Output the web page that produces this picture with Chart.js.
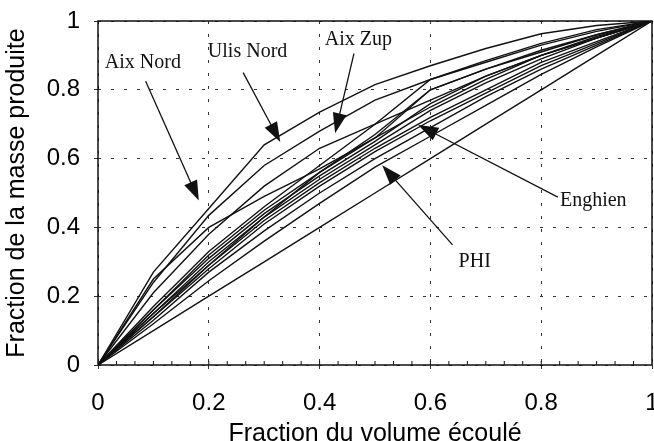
<!DOCTYPE html>
<html>
<head>
<meta charset="utf-8">
<script src="https://cdn.jsdelivr.net/npm/chart.js@4.4.1/dist/chart.umd.min.js"></script>
<style>
  html, body { margin: 0; padding: 0; background: #fff; overflow: hidden; }
</style>
</head>
<body>
<canvas id="chart" width="654" height="441"></canvas>
<script>
// Fraction du volume écoulé (axe x), commune à toutes les courbes
const volumeFraction = [0, 0.1, 0.2, 0.3, 0.4, 0.5, 0.6, 0.7, 0.8, 0.9, 1];

// Fraction de la masse produite
const aixNord  = [0, 0.27, 0.455, 0.64, 0.735, 0.815, 0.87, 0.92, 0.963, 0.987, 1];
const ulisNord = [0, 0.24, 0.435, 0.58, 0.68, 0.77, 0.83, 0.885, 0.935, 0.975, 1];
const aixZup   = [0, 0.21, 0.38, 0.52, 0.63, 0.70, 0.77, 0.84, 0.90, 0.955, 1];
const site4    = [0, 0.25, 0.40, 0.49, 0.57, 0.66, 0.80, 0.86, 0.915, 0.96, 1];
const site5    = [0, 0.17, 0.33, 0.46, 0.58, 0.70, 0.83, 0.88, 0.93, 0.97, 1];
const site6    = [0, 0.16, 0.32, 0.45, 0.56, 0.67, 0.80, 0.86, 0.91, 0.96, 1];
const site7    = [0, 0.16, 0.31, 0.44, 0.55, 0.65, 0.76, 0.84, 0.90, 0.95, 1];
const site8    = [0, 0.15, 0.30, 0.43, 0.54, 0.64, 0.74, 0.82, 0.89, 0.95, 1];
const site9    = [0, 0.15, 0.29, 0.42, 0.53, 0.63, 0.72, 0.80, 0.88, 0.94, 1];
const enghien  = [0, 0.14, 0.28, 0.41, 0.52, 0.62, 0.71, 0.79, 0.87, 0.935, 1];
const site11   = [0, 0.13, 0.27, 0.39, 0.50, 0.60, 0.69, 0.78, 0.86, 0.93, 1];
const site12   = [0, 0.14, 0.29, 0.43, 0.56, 0.66, 0.75, 0.83, 0.90, 0.95, 1];
const phi      = [0, 0.12, 0.245, 0.36, 0.47, 0.575, 0.665, 0.755, 0.845, 0.925, 1];
const bisector = [0, 0.1, 0.2, 0.3, 0.4, 0.5, 0.6, 0.7, 0.8, 0.9, 1];

const series = [aixNord, ulisNord, aixZup, site4, site5, site6, site7, site8,
                site9, enghien, site11, site12, phi, bisector];

const xTickLabels = ['0', '0.2', '0.4', '0.6', '0.8', '1'];
const yTickLabels = ['0', '0.2', '0.4', '0.6', '0.8', '1'];

// étiquettes et flèches (coordonnées en unités des axes)
const callouts = [
  { text: 'Aix Nord',  at: [0.081, 0.88],  from: [0.086, 0.825], to: [0.182, 0.478] },
  { text: 'Ulis Nord', at: [0.27, 0.91],   from: [0.262, 0.85],  to: [0.329, 0.648] },
  { text: 'Aix Zup',   at: [0.47, 0.945],  from: [0.462, 0.905], to: [0.428, 0.674] },
  { text: 'Enghien',   at: [0.894, 0.477], from: [0.83, 0.488],  to: [0.578, 0.698] },
  { text: 'PHI',       at: [0.68, 0.30],   from: [0.64, 0.349],  to: [0.513, 0.581] }
];

function buildDatasets() {
  return series.map(values => ({
    data: values.map((v, i) => ({ x: volumeFraction[i], y: v })),
    showLine: true,
    borderColor: '#111',
    borderWidth: 1.4,
    pointRadius: 0,
    tension: 0
  }));
}

function drawArrow(ctx, x0, y0, x1, y1) {
  const angle = Math.atan2(y1 - y0, x1 - x0);
  const len = 20, half = 7;
  ctx.beginPath();
  ctx.moveTo(x0, y0);
  ctx.lineTo(x1 - Math.cos(angle) * len * 0.8, y1 - Math.sin(angle) * len * 0.8);
  ctx.stroke();
  ctx.beginPath();
  ctx.moveTo(x1, y1);
  ctx.lineTo(x1 - len * Math.cos(angle) + half * Math.sin(angle),
             y1 - len * Math.sin(angle) - half * Math.cos(angle));
  ctx.lineTo(x1 - len * Math.cos(angle) - half * Math.sin(angle),
             y1 - len * Math.sin(angle) + half * Math.cos(angle));
  ctx.closePath();
  ctx.fill();
}

// cadre, petites graduations et annotations
const decorPlugin = {
  id: 'decor',
  afterDatasetsDraw(chart) {
    const { ctx, chartArea: a, scales: { x, y } } = chart;
    ctx.save();
    ctx.strokeStyle = '#111';
    ctx.fillStyle = '#111';
    ctx.lineWidth = 1.5;
    ctx.strokeRect(a.left, a.top, a.right - a.left, a.bottom - a.top);

    ctx.lineWidth = 1;
    for (let i = 1; i < 30; i++) {
      const px = x.getPixelForValue(i / 30);
      ctx.beginPath();
      ctx.moveTo(px, a.bottom);
      ctx.lineTo(px, a.bottom - 4);
      ctx.stroke();
    }

    ctx.font = '20px "Liberation Serif", "Times New Roman", serif';
    ctx.textAlign = 'center';
    ctx.textBaseline = 'middle';
    callouts.forEach(c => {
      ctx.fillText(c.text, x.getPixelForValue(c.at[0]), y.getPixelForValue(c.at[1]));
      ctx.lineWidth = 1.3;
      drawArrow(ctx,
        x.getPixelForValue(c.from[0]), y.getPixelForValue(c.from[1]),
        x.getPixelForValue(c.to[0]), y.getPixelForValue(c.to[1]));
    });
    ctx.restore();
  }
};

function createChart() {
  const ctx = document.getElementById('chart').getContext('2d');
  const tickFont = { family: '"Liberation Sans", Arial, sans-serif', size: 24 };
  const titleFont = { family: '"Liberation Sans", Arial, sans-serif', size: 25, lineHeight: 1 };
  new Chart(ctx, {
    type: 'scatter',
    data: { datasets: buildDatasets() },
    plugins: [decorPlugin],
    options: {
      responsive: false,
      animation: false,
      events: [],
      layout: { padding: { top: 21, right: 2, left: 0, bottom: 0 } },
      plugins: { legend: { display: false }, tooltip: { enabled: false } },
      scales: {
        x: {
          type: 'linear', min: 0, max: 1,
          ticks: { stepSize: 0.2, color: '#000', font: tickFont, padding: 20, maxRotation: 0,
                   callback: (v, i) => xTickLabels[i] },
          grid: { color: '#333', lineWidth: 1, tickLength: 4 },
          border: { display: false, dash: [3, 10] },
          title: { display: true, text: 'Fraction du volume écoulé', color: '#000',
                   font: titleFont, padding: { top: 0, bottom: -6 } },
          afterFit(scale) { scale.height = 76; scale.paddingLeft = 0; scale.paddingRight = 0; }
        },
        y: {
          type: 'linear', min: 0, max: 1,
          ticks: { stepSize: 0.2, color: '#000', font: tickFont, padding: 14,
                   callback: (v, i) => yTickLabels[i] },
          grid: { color: '#333', lineWidth: 1, tickLength: 4 },
          border: { display: false, dash: [3, 10] },
          title: { display: true, text: 'Fraction de la masse produite', color: '#000',
                   font: titleFont, padding: { top: 5, bottom: 0 } },
          afterFit(scale) { scale.width = 98; scale.paddingTop = 0; scale.paddingBottom = 0; }
        }
      }
    }
  });
}

window.onload = createChart;
</script>
</body>
</html>
